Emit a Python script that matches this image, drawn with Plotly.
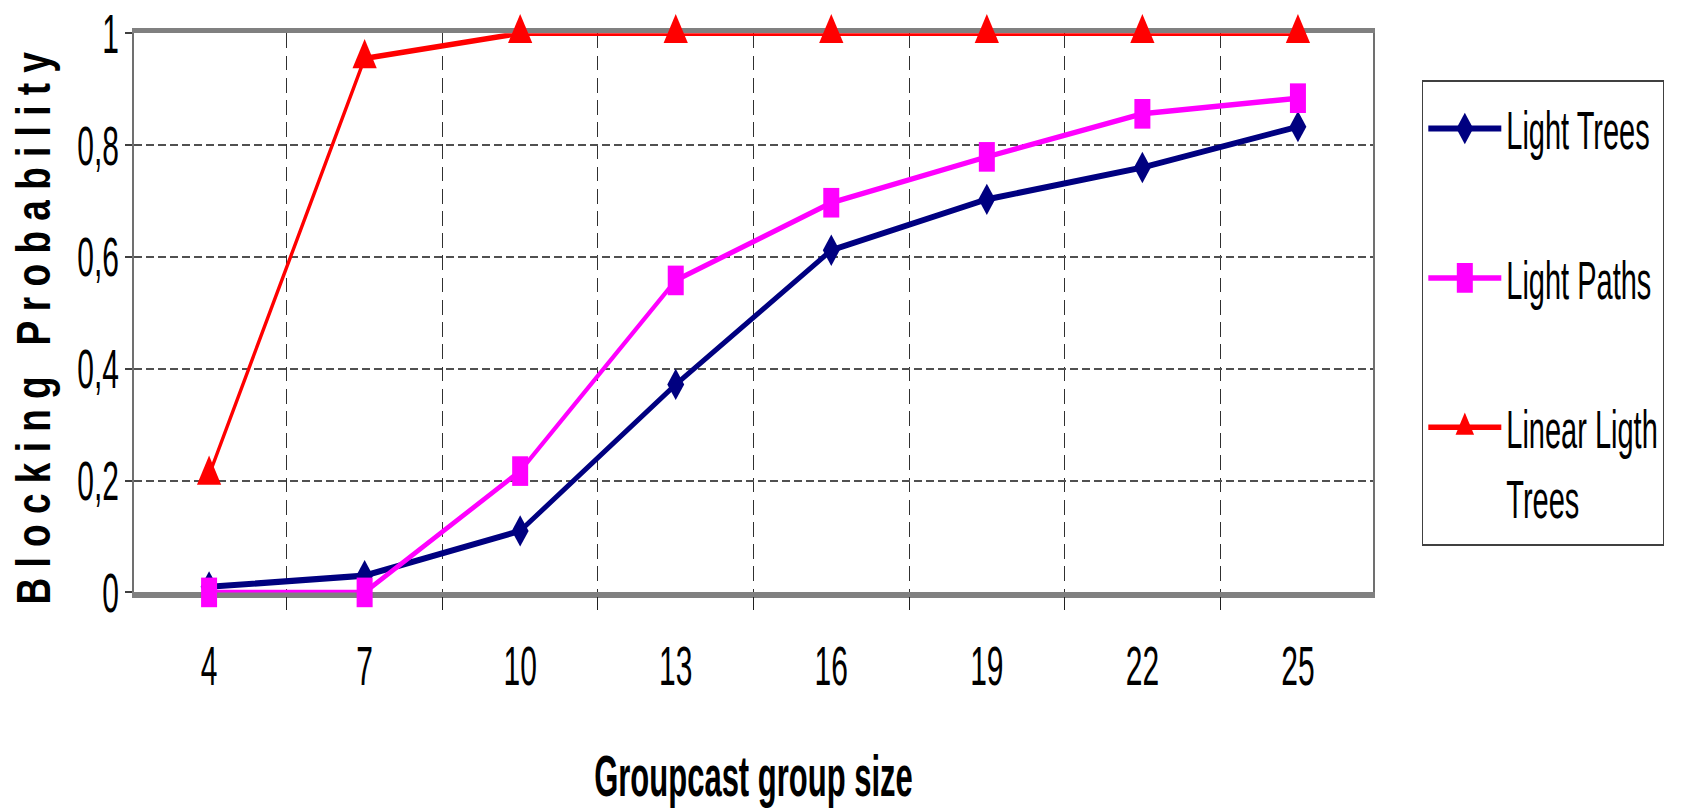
import plotly.graph_objects as go

# Blocking probability versus groupcast group size
group_size = ["4", "7", "10", "13", "16", "19", "22", "25"]
light_trees = [0.01, 0.03, 0.11, 0.372, 0.612, 0.703, 0.760, 0.833]
light_paths = [0.0, 0.0, 0.217, 0.558, 0.697, 0.779, 0.856, 0.884]
linear_light_trees = [0.21, 0.955, 1.0, 1.0, 1.0, 1.0, 1.0, 1.0]

series_names = ["Light Trees", "Light Paths", "Linear Ligth<br>Trees"]
y_ticks = [0, 0.2, 0.4, 0.6, 0.8, 1]

WIDTH = 1685
HEIGHT = 437          # drawn height; the page stretches it vertically
STRETCH = 809 / HEIGHT

SANS = "Liberation Sans, Arial, sans-serif"
TICK_FONT = dict(family=SANS, size=30, color="black")

fig = go.Figure()

fig.add_trace(go.Scatter(
    x=group_size, y=light_trees, name=series_names[0], legendgroup="a",
    mode="lines+markers",
    line=dict(color="#000080", width=3.3),
    marker=dict(symbol="diamond", size=13, color="#000080"),
    cliponaxis=False,
))
fig.add_trace(go.Scatter(
    x=group_size, y=light_paths, name=series_names[1], legendgroup="b",
    mode="lines+markers",
    line=dict(color="#FF00FF", width=3),
    marker=dict(symbol="square", size=16, color="#FF00FF"),
    cliponaxis=False,
))
fig.add_trace(go.Scatter(
    x=group_size, y=linear_light_trees, name=series_names[2], legendgroup="c",
    mode="lines+markers",
    line=dict(color="#FF0000", width=3),
    marker=dict(symbol="triangle-up", size=21, color="#FF0000"),
    cliponaxis=False,
))

fig.update_layout(
    width=WIDTH, height=HEIGHT,
    margin=dict(l=134, r=312, t=18, b=117, autoexpand=False),
    paper_bgcolor="white", plot_bgcolor="white",
    separators=", ",
    showlegend=True,
    legend=dict(
        x=1.0398, xanchor="left", y=0.917, yanchor="top",
        bordercolor="#404040", borderwidth=1,
        font=dict(family=SANS, size=29, color="black"),
        traceorder="grouped", tracegroupgap=40,
        itemwidth=73, valign="top", itemsizing="trace",
    ),
)

fig.update_xaxes(
    type="category", tickson="boundaries",
    showline=True, mirror=True, linecolor="#808080", linewidth=2.5,
    ticks="outside", ticklen=7, tickcolor="#202020", tickwidth=1,
    showgrid=True, gridcolor="#303030", gridwidth=1, griddash="8px,4px",
    tickfont=TICK_FONT, ticklabelstandoff=11,
    layer="below traces", automargin=False,
    title=dict(text="Groupcast group size", standoff=34,
               font=dict(family=SANS, size=31, color="black", weight="bold")),
)
fig.update_yaxes(
    range=[0, 1], tickvals=y_ticks,
    showline=True, mirror=True, linecolor="#707070", linewidth=2,
    ticks="outside", ticklen=7, tickcolor="#404040", tickwidth=1,
    showgrid=True, gridcolor="#505050", gridwidth=1, griddash="8px,4px",
    zeroline=False,
    tickfont=TICK_FONT, layer="below traces", automargin=False,
    title=dict(text="B l o c k i n g \u00a0 P r o b a b i l i t y",
               font=dict(family=SANS, size=20, color="black", weight="bold")),
)

post_script = """
var gd = document.getElementById('{plot_id}');
document.documentElement.style.margin = '0';
document.body.style.margin = '0';
document.body.style.overflow = 'hidden';
var K = %f;
var g = gd.querySelector('.g-ytitle');
if (g) {
  var bb = g.getBBox();
  var sx = 2.45, left = 6, cyTarget = 327.5 / K;
  var cy = bb.y + bb.height / 2;
  g.setAttribute('transform', 'translate(' + left + ',' + (cyTarget - cy) + ') scale(' + sx + ',1) translate(' + (-bb.x) + ',0)');
}
gd.style.transformOrigin = '0 0';
gd.style.transform = 'scaleY(' + K + ')';
""" % STRETCH

fig.write_html("out.html", config={"displayModeBar": False}, post_script=post_script)
